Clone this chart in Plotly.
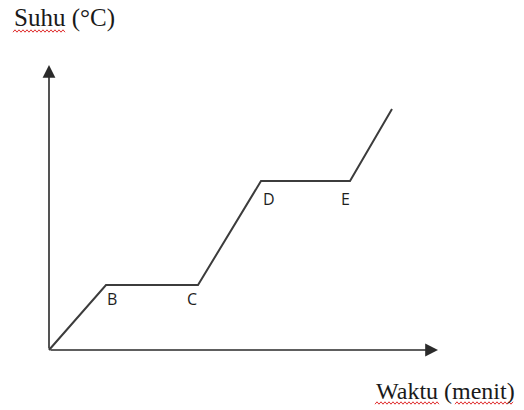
import plotly.graph_objects as go

# Data (schematic heating curve)
waktu = [0, 5.7, 14.9, 21.2, 30.1, 34.3]
suhu = [0, 6.5, 6.5, 16.9, 16.9, 24.1]
point_labels = ["B", "C", "D", "E"]
label_idx = [1, 2, 3, 4]
label_shift = [(6, -14), (-6, -14), (8, -18), (-5, -18)]

x_axis_end = 38.9
y_axis_end = 28.5

W, H = 524, 410


def px(x):
    return x / W


def py(y):
    return 1 - y / H


fig = go.Figure()

fig.add_trace(go.Scatter(x=waktu, y=suhu, mode="lines",
                         line=dict(color="#3c3c3c", width=2),
                         hoverinfo="skip", showlegend=False))

# Axes with arrowheads
fig.add_annotation(x=x_axis_end, y=0, ax=0, ay=0, xref="x", yref="y",
                   axref="x", ayref="y", showarrow=True, arrowhead=2,
                   arrowsize=1.6, arrowwidth=1.6, arrowcolor="#2a2a2a",
                   standoff=0, startstandoff=0, text="")
fig.add_annotation(x=0, y=y_axis_end, ax=0, ay=0, xref="x", yref="y",
                   axref="x", ayref="y", showarrow=True, arrowhead=2,
                   arrowsize=1.6, arrowwidth=1.6, arrowcolor="#2a2a2a",
                   standoff=0, startstandoff=0, text="")

for lab, i, (dx, dy) in zip(point_labels, label_idx, label_shift):
    fig.add_annotation(x=waktu[i], y=suhu[i], text=lab, showarrow=False,
                       xanchor="center", yanchor="middle", xshift=dx, yshift=dy,
                       font=dict(family="Open Sans, Liberation Sans, sans-serif",
                                 size=16, color="#1e1e1e"))

serif = "Liberation Serif, Times New Roman, serif"
fig.add_annotation(x=px(12), y=py(18), xref="paper", yref="paper",
                   text="Suhu (°C)", showarrow=False, xanchor="left",
                   yanchor="middle", font=dict(family=serif, size=25, color="#1a1a1a"))
fig.add_annotation(x=px(374), y=py(391), xref="paper", yref="paper",
                   text="Waktu (menit)", showarrow=False, xanchor="left",
                   yanchor="middle", font=dict(family=serif, size=24, color="#1a1a1a"))


# spell-check squiggles (decoration)
def squiggle(x0, x1, y):
    pts = []
    x = x0
    k = 0
    while x <= x1:
        yy = y + (1.2 if k % 2 == 0 else -1.2)
        pts.append((px(x), py(yy)))
        x += 2
        k += 1
    return "M " + " L ".join(f"{a:.5f},{b:.5f}" for a, b in pts)


for x0, x1, y in [(13, 65, 31), (375, 440, 403), (455, 514, 403)]:
    fig.add_shape(type="path", path=squiggle(x0, x1, y), xref="paper", yref="paper",
                  line=dict(color="#e03030", width=1))

fig.update_layout(
    width=W, height=H, margin=dict(l=0, r=0, t=0, b=0),
    paper_bgcolor="white", plot_bgcolor="white",
    xaxis=dict(range=[-4.9, -4.9 + W / 10], visible=False, fixedrange=True),
    yaxis=dict(range=[(350 - H) / 10, 350 / 10], visible=False, fixedrange=True),
)

fig.write_html("out.html",
               config={"displayModeBar": False, "staticPlot": True},
               post_script="document.body.style.margin='0';"
                           "document.body.style.overflow='hidden';")
